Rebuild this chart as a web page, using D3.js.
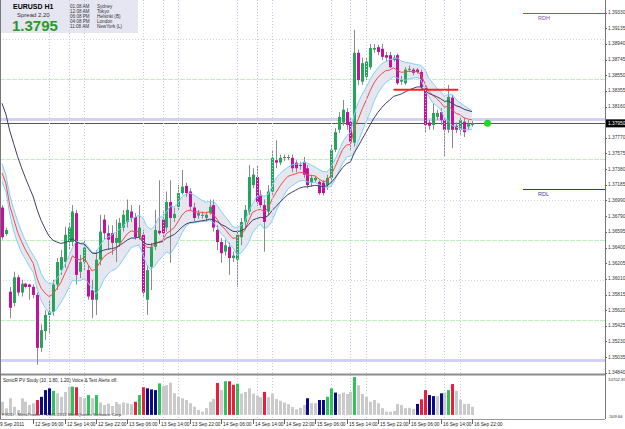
<!DOCTYPE html>
<html>
<head>
<meta charset="utf-8">
<script src="https://cdn.jsdelivr.net/npm/d3@7"></script>
<style>
  body { margin: 0; background: #fff; }
  svg { display: block; font-family: 'Liberation Sans', Arial, sans-serif; }
</style>
</head>
<body>
<svg id="chart" width="625" height="429"></svg>
<script>
// EURUSD H1, 9 Sep 22:00 .. 16 Sep 22:00 (bar index 0..120)
const open = [
  1.3690,1.3657,1.3585,1.3571,1.3603,1.3584,1.3595,1.3594,1.3591,1.3581,
  1.3515,1.3536,1.3556,1.3560,1.3594,1.3612,1.3622,1.3647,1.3647,1.3683,
  1.3610,1.3622,1.3612,1.3587,1.3575,1.3625,1.3675,1.3658,1.3658,1.3646,
  1.3646,1.3665,1.3672,1.3685,1.3678,1.3653,1.3656,1.3575,1.3616,1.3641,
  1.3661,1.3675,1.3665,1.3697,1.3677,1.3691,1.3708,1.3717,1.3710,1.3690,
  1.3680,1.3680,1.3677,1.3683,1.3693,1.3662,1.3647,1.3635,1.3641,1.3627,
  1.3625,1.3653,1.3672,1.3685,1.3718,1.3728,1.3706,1.3693,1.3685,1.3710,
  1.3749,1.3746,1.3752,1.3752,1.3752,1.3746,1.3743,1.3747,1.3739,1.3721,
  1.3724,1.3722,1.3721,1.3718,1.3727,1.3762,1.3787,1.3796,1.3809,1.3797,
  1.3771,1.3883,1.3847,1.3853,1.3865,1.3887,1.3890,1.3888,1.3880,1.3880,
  1.3874,1.3880,1.3847,1.3845,1.3862,1.3862,1.3862,1.3859,1.3839,1.3796,
  1.3793,1.3803,1.3809,1.3799,1.3787,1.3827,1.3792,1.3787,1.3797,1.3791,
  1.3793
];
const high = [
  1.3693,1.3665,1.3591,1.3610,1.3606,1.3600,1.3596,1.3595,1.3594,1.3584,
  1.3544,1.3562,1.3575,1.3600,1.3627,1.3637,1.3666,1.3672,1.3693,1.3687,
  1.3631,1.3650,1.3618,1.3600,1.3637,1.3681,1.3681,1.3668,1.3668,1.3675,
  1.3677,1.3687,1.3700,1.3693,1.3683,1.3693,1.3662,1.3618,1.3646,1.3687,
  1.3724,1.3685,1.3710,1.3724,1.3690,1.3718,1.3737,1.3721,1.3714,1.3696,
  1.3687,1.3685,1.3685,1.3700,1.3700,1.3668,1.3652,1.3650,1.3646,1.3635,
  1.3662,1.3677,1.3693,1.3743,1.3739,1.3743,1.3712,1.3700,1.3718,1.3762,
  1.3774,1.3756,1.3756,1.3756,1.3756,1.3749,1.3747,1.3753,1.3743,1.3731,
  1.3729,1.3724,1.3724,1.3731,1.3768,1.3789,1.3809,1.3824,1.3814,1.3802,
  1.39115,1.3887,1.3877,1.3877,1.3894,1.3894,1.3893,1.3894,1.3884,1.3884,
  1.3880,1.3882,1.3854,1.3865,1.3867,1.3864,1.3864,1.3862,1.3843,1.3799,
  1.3820,1.3812,1.3814,1.3802,1.3843,1.3830,1.3796,1.3802,1.3802,1.3799,
  1.3798
];
const low = [
  1.3650,1.3655,1.3552,1.3567,1.3580,1.3579,1.3589,1.3575,1.3577,1.3494,
  1.3510,1.3525,1.3532,1.3555,1.3587,1.3606,1.3615,1.3637,1.3642,1.3594,
  1.3602,1.3612,1.3575,1.3552,1.3556,1.3618,1.3650,1.3637,1.3631,1.3622,
  1.3641,1.3660,1.3665,1.3672,1.3650,1.3650,1.3579,1.3556,1.3587,1.3637,
  1.3656,1.3652,1.3660,1.3621,1.3672,1.3687,1.3706,1.3703,1.3687,1.3673,
  1.3676,1.3676,1.3672,1.3681,1.3660,1.3637,1.3621,1.3630,1.3606,1.3622,
  1.3591,1.3643,1.3665,1.3681,1.3714,1.3692,1.3690,1.3635,1.3680,1.3706,
  1.3739,1.3743,1.3748,1.3749,1.3734,1.3734,1.3737,1.3727,1.3714,1.3716,
  1.3722,1.3706,1.3705,1.3712,1.3721,1.3759,1.3783,1.3792,1.3787,1.3762,
  1.3766,1.3843,1.3843,1.3849,1.3862,1.3883,1.3880,1.3874,1.3872,1.3864,
  1.3872,1.3843,1.3843,1.3843,1.3859,1.3855,1.3857,1.3837,1.3783,1.3787,
  1.3787,1.3799,1.3793,1.3753,1.3783,1.3764,1.3783,1.3781,1.3778,1.3787,
  1.3791
];
const close = [
  1.3653,1.3662,1.3565,1.3603,1.3584,1.3595,1.3591,1.3591,1.3581,1.3515,
  1.3537,1.3556,1.3560,1.3594,1.3622,1.3628,1.3656,1.3665,1.3685,1.3606,
  1.3622,1.3640,1.3579,1.3575,1.3625,1.3660,1.3658,1.3650,1.3646,1.3652,
  1.3671,1.3681,1.3687,1.3677,1.3653,1.3665,1.3584,1.3612,1.3641,1.3662,
  1.3658,1.3658,1.3697,1.3677,1.3682,1.3708,1.3716,1.3708,1.3691,1.3677,
  1.3683,1.3681,1.3681,1.3691,1.3665,1.3647,1.3633,1.3643,1.3627,1.3630,
  1.3656,1.3672,1.3687,1.3728,1.3731,1.3697,1.3693,1.3672,1.3710,1.3752,
  1.3746,1.3752,1.3753,1.3753,1.3739,1.3739,1.3742,1.3731,1.3718,1.3727,
  1.3727,1.3708,1.3708,1.3727,1.3762,1.3784,1.3803,1.3812,1.3793,1.3772,
  1.3883,1.3849,1.3870,1.3872,1.3889,1.3889,1.3884,1.3878,1.3877,1.3865,
  1.3877,1.3845,1.3849,1.3862,1.3863,1.3858,1.3859,1.3840,1.3793,1.3792,
  1.3808,1.3808,1.3799,1.3787,1.3828,1.3787,1.3787,1.3799,1.3784,1.3794,
  1.3795
];

// SonicR PV Study volume bars: g = normal, R = climax down, G = climax up, B = rising
const volume = [
  3700,1850,4700,2300,1400,4700,3700,2800,3300,4200,
  5100,7000,7500,6800,6100,5100,6500,8000,8000,7800,
  5100,4700,5600,4700,5600,3500,2800,3200,2500,3600,
  3000,3500,3300,3000,3700,5600,7800,7500,7200,7000,
  8900,8200,8400,9100,6100,5100,4700,4200,3300,2300,
  1400,900,1900,3700,4500,9000,7000,9500,9500,8500,
  8800,6000,6500,7500,6000,5500,5000,6500,5000,6000,
  4500,4000,3500,3000,2200,1600,2000,2800,4700,3300,
  3300,4200,4200,5100,7500,6300,5900,6300,5900,6500,
  10700,8400,5900,5100,3700,4200,3300,1900,900,900,
  1100,3100,2800,1900,2000,1700,3100,4400,7000,5600,
  5300,5300,6100,6300,7000,8700,6800,4200,3100,3100,
  2300
];
const volumeKind = [
  'g','g','g','g','g','g','g','g','g','R',
  'B','B','B','G','g','g','g','g','G','R',
  'g','g','G','g','G','g','g','g','g','g',
  'g','g','g','g','R','G','R','B','B','B',
  'G','g','g','g','g','g','g','g','g','g',
  'g','g','g','g','g','R','g','G','R','R',
  'G','g','g','g','g','g','g','R','g','g',
  'g','g','g','g','g','g','g','g','B','g',
  'g','B','B','G','G','B','g','g','g','g',
  'G','g','g','g','g','g','g','g','g','g',
  'g','g','g','g','g','g','B','R','R','B',
  'B','g','B','g','G','R','g','g','g','g',
  'g'
];

const priceTicks = [1.39330,1.39135,1.38940,1.38745,1.38550,1.38355,1.38160,
  1.37770,1.37575,1.37380,1.37185,1.36990,1.36790,1.36595,1.36400,1.36205,
  1.36010,1.35815,1.35620,1.35425,1.35230,1.35035,1.34840];
const timeLabels = ['9 Sep 2011','12 Sep 06:00','12 Sep 14:00','12 Sep 22:00','13 Sep 06:00',
  '13 Sep 14:00','13 Sep 22:00','14 Sep 06:00','14 Sep 14:00','14 Sep 22:00','15 Sep 06:00',
  '15 Sep 14:00','15 Sep 22:00','16 Sep 06:00','16 Sep 14:00','16 Sep 22:00'];
const timeBars = [0,8,16,24,32,40,48,56,64,72,80,88,96,104,112,120];
const sessionBars = [12,17,21,36,41,45,60,65,69,84,89,93,108,113,117];
const roundLevels = [1.3500,1.3550,1.3600,1.3650,1.3700,1.3750,1.3800,1.3850,1.3900];
const roundKinds = ['band','half','dot','half','dot','half','band','half','dot'];
const clockTimes = ['01:08 AM','12:08 AM','06:08 PM','04:08 PM','11:08 AM'];
const clockCities = ['Sydney','Tokyo','Helsinki (B)','London','NewYork (L)'];

const symbol = 'EURUSD', timeframe = 'H1', spread = '2.20';
const bid = 1.3795;
const rdh = 1.3933, rdl = 1.3713, rdStartBar = 133;
const breakPrice = 1.3837, breakFrom = 100, breakTo = 116.5;
const markerBar = 124;
const volMax = 10702.87, volMin = -509.66;
const dragonPeriod = 10, trendPeriod = 22;
const dragonSeedHigh = 1.3745, dragonSeedClose = 1.3733, dragonSeedLow = 1.3722;
const trendSeed = 1.3820;

function ema(values, n, seed) {
  const k = 2 / (n + 1);
  let prev = seed;
  return values.map((v, i) => {
    if (i > 0) prev = prev + k * (v - prev);
    return prev;
  });
}

const svg = d3.select('#chart');
const right = 605, mainBottom = 373;

const x = d3.scaleLinear().domain([0, 154]).range([2, 605]);
const y = d3.scaleLinear().domain([1.34840, 1.39330]).range([372.7, 12.7]);
const vy = d3.scaleLinear().domain([volMin, volMax]).range([416.7, 377]);
const px = i => Math.round(x(i));

svg.append('defs').append('clipPath').attr('id', 'mainClip')
  .append('rect').attr('x', 0).attr('y', 0).attr('width', right).attr('height', mainBottom);

const main = svg.append('g').attr('clip-path', 'url(#mainClip)');

// info box
svg.append('rect').attr('x', 1).attr('y', 0).attr('width', 137).attr('height', 33).attr('fill', '#e6e6f2');

// session separators (main + volume panels)
svg.append('g').selectAll('line').data(sessionBars).enter().append('line')
  .attr('x1', d => px(d) + 0.5).attr('x2', d => px(d) + 0.5)
  .attr('y1', 0).attr('y2', 418)
  .attr('stroke', '#c6c6ee').attr('stroke-dasharray', '1,2');

// round-number levels
main.selectAll('line.lvl').data(roundLevels).enter().append('line')
  .attr('class', 'lvl')
  .attr('x1', 0).attr('x2', right)
  .attr('y1', d => Math.round(y(d)) + 0.5).attr('y2', d => Math.round(y(d)) + 0.5)
  .attr('stroke', (d, i) => roundKinds[i] === 'half' ? '#bdf0bd' : '#d2d2f2')
  .attr('stroke-width', (d, i) => roundKinds[i] === 'band' ? 3 : 1)
  .attr('stroke-dasharray', (d, i) => roundKinds[i] === 'dot' ? '1,2' : (roundKinds[i] === 'half' ? '5,1' : null));

// dragon band + trend
const dHigh = ema(high, dragonPeriod, dragonSeedHigh);
const dLow = ema(low, dragonPeriod, dragonSeedLow);
const dClose = ema(close, dragonPeriod, dragonSeedClose);
const trend = ema(close, trendPeriod, trendSeed);
const idx = d3.range(close.length);

main.append('path').datum(idx)
  .attr('d', d3.area().x(i => x(i)).y0(i => y(dLow[i])).y1(i => y(dHigh[i])))
  .attr('fill', '#e5e6ee');

// bid price line
main.append('line').attr('x1', 0).attr('x2', right)
  .attr('y1', Math.round(y(bid)) + 0.5).attr('y2', Math.round(y(bid)) + 0.5)
  .attr('stroke', '#555');

// candles
const candles = main.append('g');
candles.selectAll('line').data(idx).enter().append('line')
  .attr('x1', i => px(i) + 0.5).attr('x2', i => px(i) + 0.5)
  .attr('y1', i => y(high[i])).attr('y2', i => y(low[i]))
  .attr('stroke', '#8a8a8a');
candles.selectAll('rect').data(idx).enter().append('rect')
  .attr('x', i => px(i) - 1)
  .attr('y', i => y(Math.max(open[i], close[i])))
  .attr('width', 3)
  .attr('height', i => Math.max(1, Math.abs(y(open[i]) - y(close[i]))))
  .attr('fill', i => close[i] >= open[i] ? '#23a65a' : '#c2109f');

const line = arr => d3.line().x(i => x(i)).y(i => y(arr[i]));
main.append('path').datum(idx).attr('d', line(dHigh)).attr('fill', 'none').attr('stroke', '#7ed2fc');
main.append('path').datum(idx).attr('d', line(dLow)).attr('fill', 'none').attr('stroke', '#7ed2fc');
main.append('path').datum(idx).attr('d', line(dClose)).attr('fill', 'none').attr('stroke', '#f24c4c');
main.append('path').datum(idx).attr('d', line(trend)).attr('fill', 'none').attr('stroke', '#3e3e6e');

// break line, marker, RDH/RDL
main.append('line').attr('x1', x(breakFrom)).attr('x2', x(breakTo))
  .attr('y1', y(breakPrice)).attr('y2', y(breakPrice))
  .attr('stroke', '#ff2020').attr('stroke-width', 2);
main.append('circle').attr('cx', x(markerBar)).attr('cy', y(bid)).attr('r', 3.5).attr('fill', '#22d822');
main.append('line').attr('x1', px(rdStartBar)).attr('x2', right)
  .attr('y1', Math.round(y(rdh)) + 0.5).attr('y2', Math.round(y(rdh)) + 0.5).attr('stroke', '#ff3030');
main.append('line').attr('x1', px(rdStartBar)).attr('x2', right)
  .attr('y1', Math.round(y(rdl)) + 0.5).attr('y2', Math.round(y(rdl)) + 0.5).attr('stroke', '#3030e0');
main.append('text').attr('x', px(rdStartBar) + 15).attr('y', y(rdh) + 7)
  .attr('font-size', 5.5).attr('fill', '#8050a0').text('RDH');
main.append('text').attr('x', px(rdStartBar) + 15).attr('y', y(rdl) + 7)
  .attr('font-size', 5.5).attr('fill', '#4040a0').text('RDL');

// info box text
svg.append('text').attr('x', 13).attr('y', 9).attr('font-size', 7).attr('font-weight', 'bold')
  .text(symbol + '   ' + timeframe);
svg.append('text').attr('x', 17).attr('y', 17).attr('font-size', 6).attr('fill', '#333')
  .text('Spread   ' + spread);
svg.append('text').attr('x', 12).attr('y', 31).attr('font-size', 15).attr('font-weight', 'bold')
  .attr('fill', '#2a9a2a').text(bid.toFixed(4));
svg.append('g').selectAll('text').data(clockTimes).enter().append('text')
  .attr('x', 70).attr('y', (d, i) => 7.5 + i * 5).attr('font-size', 4.6).attr('fill', '#333')
  .text(d => d);
svg.append('g').selectAll('text').data(clockCities).enter().append('text')
  .attr('x', 97).attr('y', (d, i) => 7.5 + i * 5).attr('font-size', 4.6).attr('fill', '#333')
  .text(d => d);

// volume panel
svg.append('line').attr('x1', 0).attr('x2', right).attr('y1', 374.5).attr('y2', 374.5)
  .attr('stroke', '#8c8c8c').attr('stroke-width', 2);
const volColor = { g: '#cacaca', R: '#ec1c3c', G: '#2ec45a', B: '#0a0a88' };
svg.append('g').selectAll('rect').data(idx).enter().append('rect')
  .attr('x', i => px(i) - 1).attr('width', 3)
  .attr('y', i => vy(volume[i])).attr('height', i => vy(0) - vy(volume[i]))
  .attr('fill', i => volColor[volumeKind[i]]);
svg.append('text').attr('x', 3).attr('y', 382).attr('font-size', 4.6).attr('fill', '#222')
  .text('SonicR PV Study (10, 1.80, 1.20)    Voice & Text Alerts off.');
svg.append('text').attr('x', 2).attr('y', 416).attr('font-size', 4.4).attr('fill', '#333')
  .text('FXDD - MetaTrader \u00a9 2001-2011 MetaQuotes Software Corp.');

// frame
svg.append('line').attr('x1', 0.5).attr('x2', 0.5).attr('y1', 0).attr('y2', 419).attr('stroke', '#777');
svg.append('line').attr('x1', right + 0.5).attr('x2', right + 0.5).attr('y1', 0).attr('y2', 419).attr('stroke', '#777');
svg.append('line').attr('x1', 0).attr('x2', right).attr('y1', 419.5).attr('y2', 419.5).attr('stroke', '#999');

// price axis
const pAxis = svg.append('g');
pAxis.selectAll('line').data(priceTicks).enter().append('line')
  .attr('x1', right).attr('x2', right + 2)
  .attr('y1', d => Math.round(y(d)) + 0.5).attr('y2', d => Math.round(y(d)) + 0.5).attr('stroke', '#666');
pAxis.selectAll('text').data(priceTicks).enter().append('text')
  .attr('x', right + 3).attr('y', d => y(d) + 1.5).attr('font-size', 4.8).attr('fill', '#333')
  .text(d => d.toFixed(5));
pAxis.append('rect').attr('x', right + 1).attr('y', y(bid) - 4).attr('width', 19).attr('height', 8).attr('fill', '#000');
pAxis.append('text').attr('x', right + 3).attr('y', y(bid) + 2).attr('font-size', 4.8).attr('fill', '#fff')
  .text(bid.toFixed(5));
[volMax, volMin].forEach((v, k) => {
  pAxis.append('text').attr('x', right + 3).attr('y', vy(v) + (k === 0 ? 3.5 : 1.5))
    .attr('font-size', 4.3).attr('fill', '#333')
    .text(v.toFixed(2));
});

// time axis
const tAxis = svg.append('g');
tAxis.selectAll('line').data(timeBars.slice(1)).enter().append('line')
  .attr('x1', d => px(d) + 0.5).attr('x2', d => px(d) + 0.5).attr('y1', 419).attr('y2', 424).attr('stroke', '#666');
tAxis.selectAll('text').data(timeBars).enter().append('text')
  .attr('x', (d, i) => i === 0 ? 0 : px(d) + 2).attr('y', 426).attr('font-size', 4.8).attr('fill', '#222')
  .text((d, i) => timeLabels[i]);
</script>
</body>
</html>
